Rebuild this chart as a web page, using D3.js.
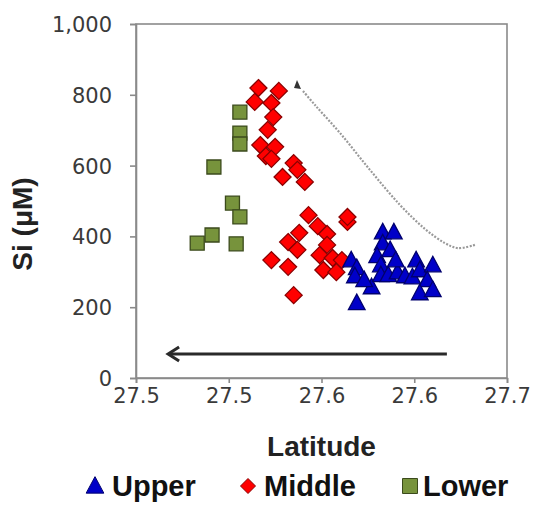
<!DOCTYPE html>
<html><head><meta charset="utf-8">
<script src="https://cdn.jsdelivr.net/npm/d3@7"></script>
<style>body{margin:0;background:#fff}</style>
</head><body><svg id="c" width="541" height="518"></svg>
<script>
// ---- data ----
const upperLat = [27.566,27.569,27.568,27.569,27.577,27.583,27.589,27.583,27.587,27.580,27.582,27.582,27.586,27.591,27.595,27.599,27.601,27.603,27.610,27.607,27.603,27.610,27.573,27.590];
const upperSi  = [333,311,288,212,257,412,412,381,362,345,319,291,291,299,288,285,333,305,319,277,240,249,277,333];
const middleLat = [27.516,27.527,27.514,27.523,27.524,27.521,27.517,27.525,27.520,27.523,27.535,27.537,27.529,27.541,27.543,27.548,27.553,27.538,27.532,27.537,27.553,27.549,27.556,27.561,27.551,27.558,27.523,27.532,27.535,27.564,27.564];
const middleSi  = [819,811,780,777,737,701,658,653,627,619,607,588,568,554,460,429,407,410,384,362,376,347,339,333,305,299,333,314,234,441,455];
const lowerLat = [27.506,27.506,27.506,27.492,27.502,27.506,27.491,27.483,27.504];
const lowerSi  = [751,692,661,596,494,455,404,381,379];
const xTicks = [27.45,27.50,27.55,27.60,27.65];
const xTickLabels = ["27.5","27.5","27.6","27.6","27.7"];
const yTicks = [0,200,400,600,800,1000];
const yTickLabels = ["0","200","400","600","800","1,000"];
const seriesNames = ["Upper","Middle","Lower"];
// annotation paths (data coordinates)
const trendLat = [27.6327,27.6236,27.6166,27.6058,27.5923,27.5761,27.560,27.5465,27.5395,27.5368];
const trendSi  = [376,367,381,421,489,588,692,771,814,842];
const flowLat = [27.6176,27.4673];
const flowSi  = [68,68];

// ---- layout ----
const L=136,R=507,T=24,B=378;
const svg=d3.select("#c");
const x=d3.scaleLinear().domain([27.45,27.65]).range([L,R]);
const y=d3.scaleLinear().domain([0,1000]).range([B,T]);
const axisCol="#8a8a8a", tickFont="'DejaVu Sans', sans-serif", boldFont="'Liberation Sans', Arial, sans-serif";

// plot frame
svg.append("rect").attr("x",L).attr("y",T).attr("width",R-L).attr("height",B-T)
  .attr("fill","none").attr("stroke",axisCol).attr("stroke-width",1.6);

const xAxis=svg.append("g").attr("transform",`translate(0,${B})`)
  .call(d3.axisBottom(x).tickValues(xTicks).tickFormat((d,i)=>xTickLabels[i]).tickSizeOuter(0).tickSize(5).tickPadding(5));
const yAxis=svg.append("g").attr("transform",`translate(${L},0)`)
  .call(d3.axisLeft(y).tickValues(yTicks).tickFormat((d,i)=>yTickLabels[i]).tickSizeOuter(0).tickSize(6).tickPadding(18));
[xAxis,yAxis].forEach(g=>{
  g.select(".domain").attr("stroke",axisCol).attr("stroke-width",1.6);
  g.selectAll(".tick line").attr("stroke",axisCol).attr("stroke-width",1.6);
  g.selectAll(".tick text").attr("font-family",tickFont).attr("font-size",21).attr("fill","#3a3a3a");
});
yAxis.selectAll(".tick text").attr("dy","0.36em");

// axis titles
svg.append("text").attr("x",(L+R)/2).attr("y",456).attr("text-anchor","middle")
  .attr("font-family",boldFont).attr("font-weight","bold").attr("font-size",28).attr("fill","#222").text("Latitude");
svg.append("text").attr("transform","translate(32,224) rotate(-90)").attr("text-anchor","middle")
  .attr("font-family",boldFont).attr("font-weight","bold").attr("font-size",28).attr("fill","#222").text("Si (μM)");

// annotations
const line=d3.line().curve(d3.curveCatmullRom);
const trendPts=trendLat.map((v,i)=>[x(v),y(trendSi[i])]);
svg.append("path").attr("d",line(trendPts.slice(0,-1))).attr("fill","none")
  .attr("stroke","#9a9a9a").attr("stroke-width",2.2).attr("stroke-dasharray","2,1.5");
{
  const [hx,hy]=trendPts[trendPts.length-1];
  svg.append("path").attr("d",`M${hx},${hy} L${hx+4},${hy+9} L${hx-3},${hy+8} Z`).attr("fill","#333");
}
const fx0=x(flowLat[0]),fx1=x(flowLat[1]),fy=y(flowSi[0]);
svg.append("line").attr("x1",fx0).attr("x2",fx1+1).attr("y1",fy).attr("y2",fy).attr("stroke","#2a2a2a").attr("stroke-width",3);
svg.append("path").attr("d",`M${fx1+11},${fy-7} L${fx1},${fy} L${fx1+11},${fy+7}`).attr("fill","none")
  .attr("stroke","#2a2a2a").attr("stroke-width",3);

// marker shapes
const shapes={
  Upper:(s)=>`M0,${-s*0.55} L${s*0.52},${s*0.42} L${-s*0.52},${s*0.42} Z`,
  Middle:(s)=>`M0,${-s/2} L${s/2},0 L0,${s/2} L${-s/2},0 Z`,
  Lower:(s)=>`M${-s/2},${-s/2} h${s} v${s} h${-s} Z`
};
const style={
  Upper:{fill:"#0000c8",stroke:"#00006e",size:16},
  Middle:{fill:"#ff0000",stroke:"#8a0000",size:17},
  Lower:{fill:"#77933c",stroke:"#3b4a1c",size:14}
};
const data={
  Upper:upperLat.map((v,i)=>({lat:v,si:upperSi[i]})),
  Middle:middleLat.map((v,i)=>({lat:v,si:middleSi[i]})),
  Lower:lowerLat.map((v,i)=>({lat:v,si:lowerSi[i]}))
};
["Middle","Upper","Lower"].forEach(k=>{
  svg.append("g").selectAll("path").data(data[k]).join("path")
    .attr("transform",d=>`translate(${x(d.lat)},${y(d.si)})`)
    .attr("d",shapes[k](style[k].size))
    .attr("fill",style[k].fill).attr("stroke",style[k].stroke).attr("stroke-width",1.3);
});

// legend
const legX=[95,248,410], legTX=[112,264,423];
seriesNames.forEach((k,i)=>{
  svg.append("path").attr("transform",`translate(${legX[i]},${486})`)
    .attr("d",shapes[k](k==="Upper"?17:15)).attr("fill",style[k].fill).attr("stroke",style[k].stroke).attr("stroke-width",1);
  svg.append("text").attr("x",legTX[i]).attr("y",496).attr("font-family",boldFont).attr("font-weight","bold")
    .attr("font-size",29).attr("fill","#111").text(k);
});
</script></body></html>
